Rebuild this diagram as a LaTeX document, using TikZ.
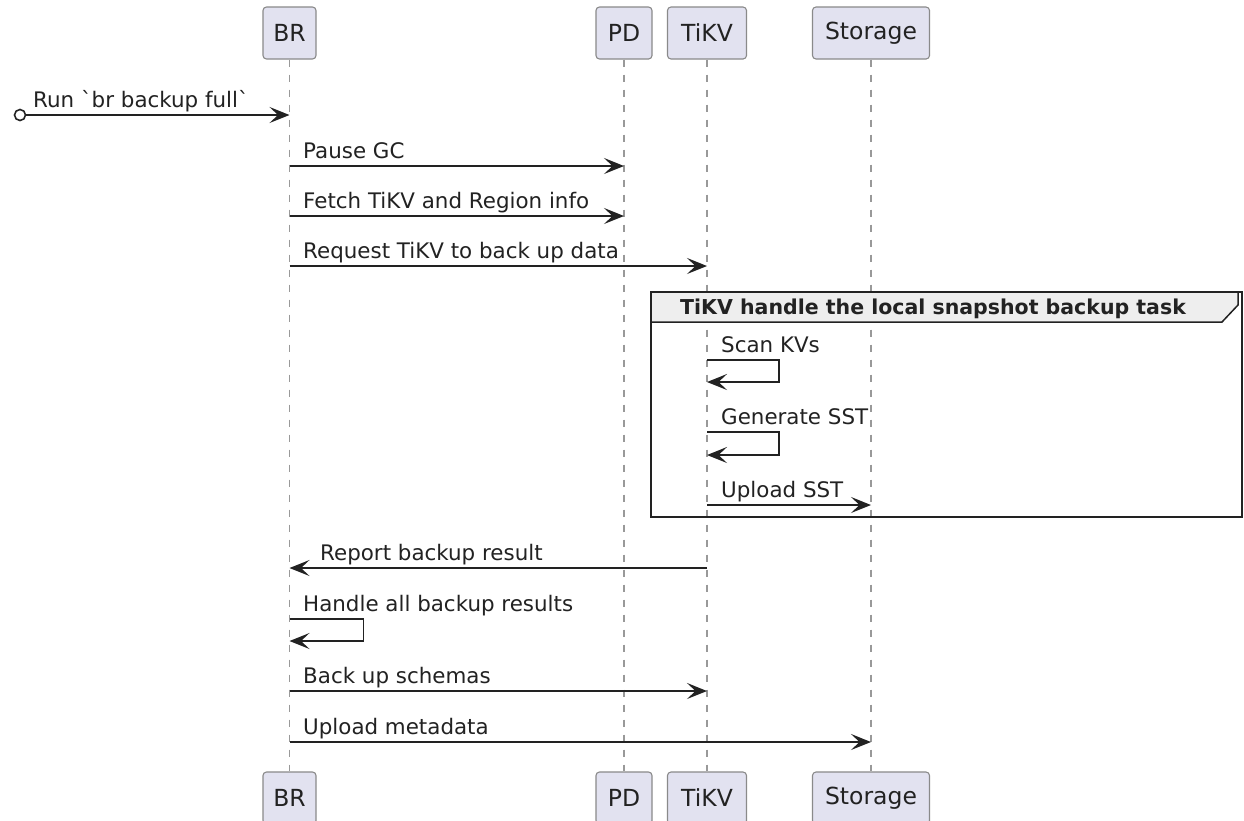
\documentclass[tikz,border=0pt]{standalone}
\usepackage{fontspec}
\newfontfamily\df{DejaVu Sans}
\usetikzlibrary{arrows.meta}
\definecolor{partfill}{HTML}{E2E2F0}
\definecolor{partdraw}{HTML}{8A8A8A}
\definecolor{lifec}{HTML}{999999}
\definecolor{linec}{HTML}{222222}
\definecolor{grphead}{HTML}{EEEEEE}
\begin{document}
\begin{tikzpicture}[x=1pt,y=-1pt,
  part/.style={draw=partdraw, fill=partfill, rounded corners=3.5pt, line width=1.1pt,
    font=\df\fontsize{23.5}{28}\selectfont, text=linec, minimum height=52pt, inner sep=0pt},
  life/.style={draw=lifec, line width=1.2pt, dash pattern=on 7pt off 8pt},
  msg/.style={draw=linec, line width=1.6pt, -{Stealth[length=20pt,width=16pt,inset=8.5pt]}},
  lbl/.style={font=\df\fontsize{21.4}{25}\selectfont, text=linec, anchor=base west, inner sep=0pt},
  hdr/.style={font=\df\bfseries\fontsize{20.5}{24}\selectfont, text=linec, anchor=base west, inner sep=0pt}
]
\clip (0,0) rectangle (1244,820);
\fill[white] (0,0) rectangle (1244,820);
% participants top
\node[part, minimum width=53pt] (brt) at (289.5,33) {BR};
\node[part, minimum width=56pt] (pdt) at (624,33) {PD};
\node[part, minimum width=79pt] (tkt) at (707,33) {TiKV};
\node[part, minimum width=117pt] (stt) at (871,33) {Storage};
% participants bottom
\node[part, minimum width=53pt] (brb) at (289.5,798) {BR};
\node[part, minimum width=56pt] (pdb) at (624,798) {PD};
\node[part, minimum width=79pt] (tkb) at (707,798) {TiKV};
\node[part, minimum width=117pt] (stb) at (871,798) {Storage};
% lifelines
\draw[life] (brt.south) -- (brb.north);
\draw[life] (pdt.south) -- (pdb.north);
\draw[life] (tkt.south) -- (tkb.north);
\draw[life] (stt.south) -- (stb.north);
% group frame
\draw[draw=linec, line width=2.5pt] (651,292) rectangle (1242,517);
\draw[draw=linec, fill=grphead, line width=1.5pt] (651,292) -- (1238,292) -- (1238,305) -- (1222,322) -- (651,322) -- cycle;
\node[hdr] (ghead) at (680,314) {TiKV handle the local snapshot backup task};
% start
\node[circle, draw=linec, fill=white, line width=1.6pt, minimum size=11pt, inner sep=0pt] (start) at (20,115) {};
\draw[msg] (start) -- (brt.south |- start);
\node[lbl] (l1) at (33,107) {Run \symbol{96}br backup full\symbol{96}};
% messages
\draw[msg] (brt.south |- 0,166) -- (pdt.south |- 0,166);
\node[lbl] (l2) at (303,158) {Pause GC};
\draw[msg] (brt.south |- 0,216) -- (pdt.south |- 0,216);
\node[lbl] (l3) at (303,208) {Fetch TiKV and Region info};
\draw[msg] (brt.south |- 0,266) -- (tkt.south |- 0,266);
\node[lbl] (l4) at (303,258) {Request TiKV to back up data};
% self loops in TiKV
\draw[msg] (tkt.south |- 0,360) -- ++(72,0) |- (tkt.south |- 0,382);
\node[lbl] (l5) at (721,352) {Scan KVs};
\draw[msg] (tkt.south |- 0,432) -- ++(72,0) |- (tkt.south |- 0,455);
\node[lbl] (l6) at (721,424) {Generate SST};
\draw[msg] (tkt.south |- 0,505) -- (stt.south |- 0,505);
\node[lbl] (l7) at (721,497) {Upload SST};
% report
\draw[msg] (tkt.south |- 0,568) -- (brt.south |- 0,568);
\node[lbl] (l8) at (320,560) {Report backup result};
\draw[msg] (brt.south |- 0,619) -- ++(74,0) |- (brt.south |- 0,641);
\node[lbl] (l9) at (303,611) {Handle all backup results};
\draw[msg] (brt.south |- 0,691) -- (tkt.south |- 0,691);
\node[lbl] (l10) at (303,683) {Back up schemas};
\draw[msg] (brt.south |- 0,742) -- (stt.south |- 0,742);
\node[lbl] (l11) at (303,734) {Upload metadata};
\end{tikzpicture}
\end{document}
